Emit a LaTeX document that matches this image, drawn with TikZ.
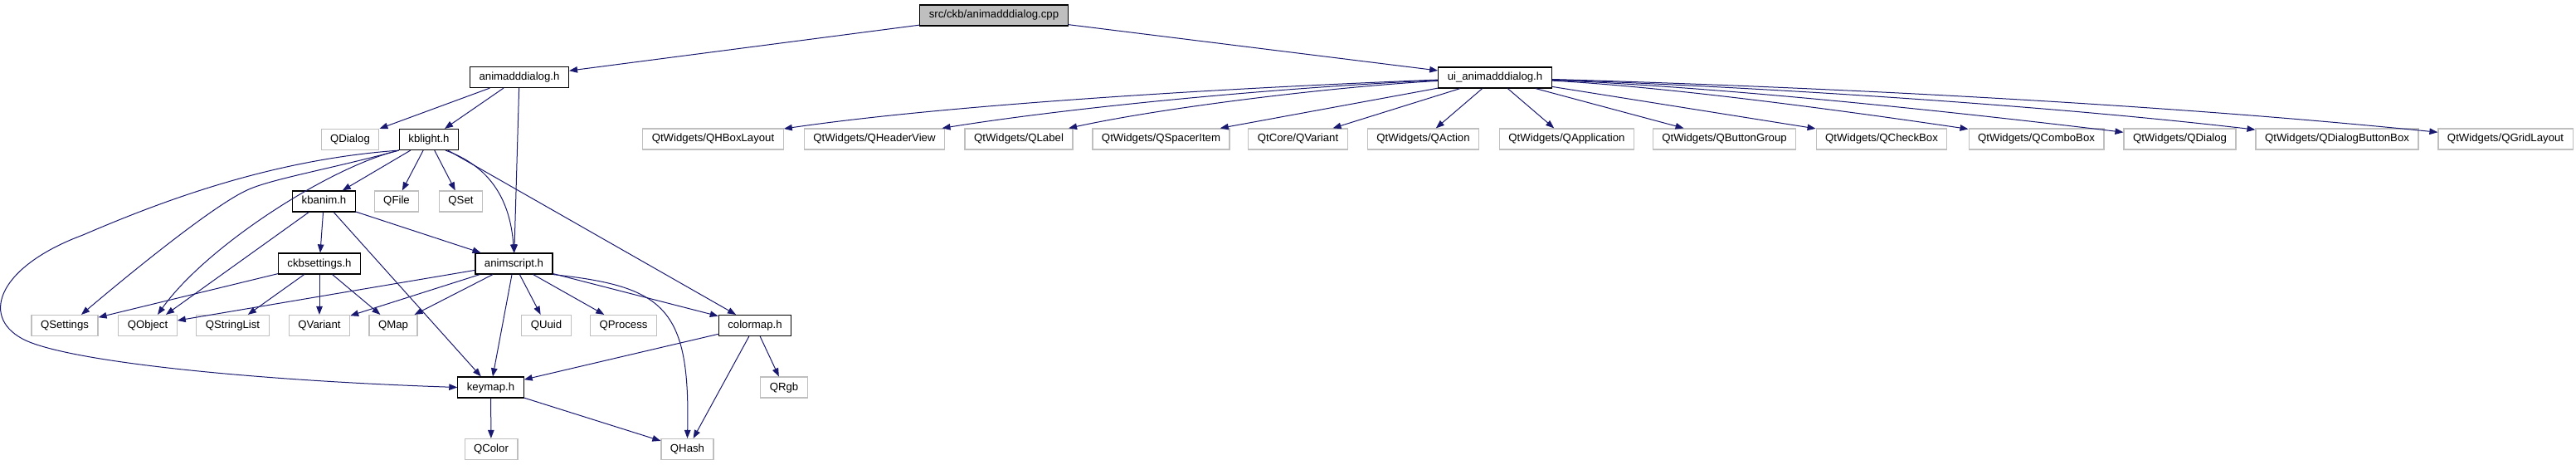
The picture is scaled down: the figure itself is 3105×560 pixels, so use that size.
\documentclass[tikz,border=0pt]{standalone}
\usepackage{fontspec}
\setmainfont{Liberation Sans}
\usetikzlibrary{arrows.meta}
\definecolor{edgeblue}{RGB}{25,25,112}
\definecolor{boxgrey}{RGB}{191,191,191}

\begin{document}
\begin{tikzpicture}[x=1bp,y=-1bp,
    hfile/.style={draw=black,line width=1.2bp,minimum height=25bp,inner xsep=11bp,inner ysep=0pt,
      text height=10bp,text depth=3bp,font=\fontsize{13.2bp}{15bp}\selectfont},
    qtfile/.style={hfile,draw=boxgrey},
    srcfile/.style={hfile,fill=boxgrey},
    dep/.style={edgeblue,line width=1bp,-{Triangle[length=10bp,width=7.5bp]}}]
  \useasboundingbox (0,0) rectangle (3105,560);

  % top of the graph
  \node[srcfile] (src) at (1198,18.5) {src/ckb/animadddialog.cpp};
  \node[hfile] (animh) at (626,93) {animadddialog.h};
  \node[hfile] (uih) at (1802,93.5) {ui\_animadddialog.h};

  % second row
  \node[qtfile] (qdialog) at (422,168) {QDialog};
  \node[hfile] (kblight) at (517,168) {kblight.h};
  \node[qtfile] (qhbox) at (859.5,167.5) {QtWidgets/QHBoxLayout};
  \node[qtfile] (qheader) at (1054,167.5) {QtWidgets/QHeaderView};
  \node[qtfile] (qlabel) at (1228,167.5) {QtWidgets/QLabel};
  \node[qtfile] (qspacer) at (1399.5,167.5) {QtWidgets/QSpacerItem};
  \node[qtfile] (qcvariant) at (1564.5,167.5) {QtCore/QVariant};
  \node[qtfile] (qaction) at (1715.5,167.5) {QtWidgets/QAction};
  \node[qtfile] (qapp) at (1888.5,167.5) {QtWidgets/QApplication};
  \node[qtfile] (qbtngroup) at (2078.5,167.5) {QtWidgets/QButtonGroup};
  \node[qtfile] (qcheck) at (2268,167.5) {QtWidgets/QCheckBox};
  \node[qtfile] (qcombo) at (2454.5,167.5) {QtWidgets/QComboBox};
  \node[qtfile] (qwdialog) at (2627.5,167.5) {QtWidgets/QDialog};
  \node[qtfile] (qbtnbox) at (2817,167.5) {QtWidgets/QDialogButtonBox};
  \node[qtfile] (qgrid) at (3020,167.5) {QtWidgets/QGridLayout};

  % middle rows
  \node[hfile] (kbanim) at (390.5,242.5) {kbanim.h};
  \node[qtfile] (qfile) at (478,242.5) {QFile};
  \node[qtfile] (qset) at (555.5,242.5) {QSet};
  \node[hfile] (ckbset) at (385,317.5) {ckbsettings.h};
  \node[hfile] (animscript) at (619.5,317.5) {animscript.h};

  \node[qtfile] (qsettings) at (78,392) {QSettings};
  \node[qtfile] (qobject) at (178,392) {QObject};
  \node[qtfile] (qstrlist) at (280.5,392) {QStringList};
  \node[qtfile] (qvariant) at (385,392) {QVariant};
  \node[qtfile] (qmap) at (474,392) {QMap};
  \node[qtfile] (quuid) at (658.5,392) {QUuid};
  \node[qtfile] (qprocess) at (751.5,392) {QProcess};
  \node[hfile] (colormap) at (910,392) {colormap.h};

  % bottom rows
  \node[hfile] (keymap) at (591.5,466.5) {keymap.h};
  \node[qtfile] (qrgb) at (945,466.5) {QRgb};
  \node[qtfile] (qcolor) at (592,541) {QColor};
  \node[qtfile] (qhash) at (828.5,541) {QHash};

  \draw[dep] (src) -- (animh);
  \draw[dep] (src) -- (uih);

  \draw[dep] (animh) -- (qdialog);
  \draw[dep] (animh) -- (kblight);
  \draw[dep] (animh) -- (animscript);

  \draw[dep] (kblight.south west) .. controls (330,192) and (200,240) .. (100,283)
    .. controls (0,320) and (-25,380) .. (27,408)
    .. controls (77,435) and (300,458) .. (keymap.west);
  \draw[dep] (kblight.south west) .. controls (400,203) and (330,215) .. (300,228)
    .. controls (260,245) and (157,329) .. ([xshift=20bp]qsettings.north);
  \draw[dep] (kblight.south west) .. controls (400,200) and (250,295) .. ([xshift=12bp]qobject.north);
  \draw[dep] (kblight) -- (kbanim);
  \draw[dep] (kblight) -- (qfile);
  \draw[dep] (kblight) -- (qset);
  \draw[dep] ([xshift=20bp]kblight.south) .. controls (590,200) and (615,240) .. (animscript.north);
  \draw[dep] (kblight) -- (colormap);

  \draw[dep] (kbanim) -- (ckbset);
  \draw[dep] (kbanim) -- ([xshift=22bp]qobject.north);
  \draw[dep] (kbanim) -- (keymap);
  \draw[dep] (kbanim) -- (animscript);

  \draw[dep] (ckbset) -- (qsettings);
  \draw[dep] (ckbset) -- (qstrlist);
  \draw[dep] (ckbset) -- (qvariant);
  \draw[dep] (ckbset) -- (qmap);

  \draw[dep] (animscript) -- (qobject);
  \draw[dep] (animscript) -- (qvariant);
  \draw[dep] (animscript) -- (qmap);
  \draw[dep] (animscript) -- (keymap);
  \draw[dep] (animscript) -- (quuid);
  \draw[dep] (animscript) -- (qprocess);
  \draw[dep] (animscript) -- (colormap);
  \draw[dep] (animscript.south east) .. controls (800,345) and (832,370) .. (qhash.north);

  \draw[dep] (colormap) -- (keymap);
  \draw[dep] (colormap) -- (qrgb);
  \draw[dep] (colormap) -- (qhash);
  \draw[dep] (keymap) -- (qcolor);
  \draw[dep] (keymap) -- (qhash);

  \draw[dep] (uih) .. controls (1500,105) and (1150,125) .. (qhbox);
  \draw[dep] (uih) .. controls (1550,105) and (1300,128) .. (qheader);
  \draw[dep] (uih) .. controls (1600,105) and (1400,130) .. (qlabel);
  \draw[dep] (uih) -- (qspacer);
  \draw[dep] (uih) -- (qcvariant);
  \draw[dep] (uih) -- (qaction);
  \draw[dep] (uih) -- (qapp);
  \draw[dep] (uih) -- (qbtngroup);
  \draw[dep] (uih) -- (qcheck);
  \draw[dep] (uih) .. controls (2000,104) and (2200,130) .. (qcombo);
  \draw[dep] (uih) .. controls (2050,104) and (2300,128) .. (qwdialog);
  \draw[dep] (uih) .. controls (2100,104) and (2450,125) .. (qbtnbox);
  \draw[dep] (uih) .. controls (2200,105) and (2600,125) .. (qgrid);
\end{tikzpicture}
\end{document}
